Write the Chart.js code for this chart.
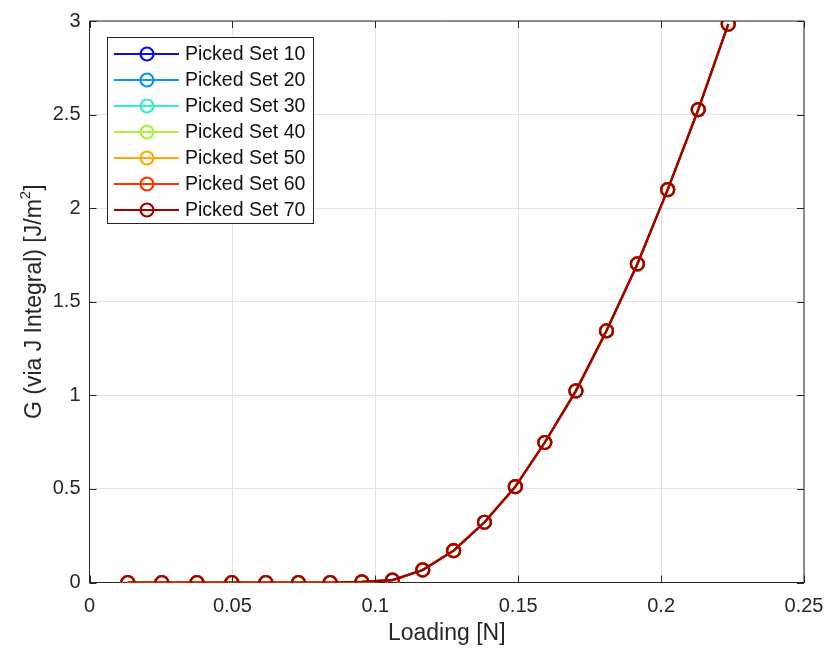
<!DOCTYPE html>
<html>
<head>
  <title>G vs Loading</title>
  <script src="https://cdn.jsdelivr.net/npm/chart.js"></script>
  <style>
    body { margin: 0; background: #fff; }
  </style>
</head>
<body>
<canvas id="gChart" width="826" height="652"></canvas>

<script>
  // loading values [N] and J-integral energy release rate [J/m^2]
  const loading = [0.0134, 0.0253, 0.0376, 0.0498, 0.0617, 0.0731, 0.0842, 0.0953, 0.1060, 0.1166,
                   0.1274, 0.1382, 0.1490, 0.1593, 0.1702, 0.1809, 0.1917, 0.2023, 0.2130, 0.2235];
  const gValues = [0, 0, 0, 0, 0, 0, 0, 0.003, 0.013, 0.067,
                   0.170, 0.322, 0.512, 0.748, 1.024, 1.345, 1.702, 2.099, 2.527, 2.983];

  const setNames = ['Picked Set 10', 'Picked Set 20', 'Picked Set 30', 'Picked Set 40',
                    'Picked Set 50', 'Picked Set 60', 'Picked Set 70'];
  const setColors = ['#0a0af5', '#0a96f5', '#33f0cc', '#aaf03c', '#ffaa00', '#ff3300', '#a00000'];

  const xTickLabels = ['0', '0.05', '0.1', '0.15', '0.2', '0.25'];
  const yTickLabels = ['0', '0.5', '1', '1.5', '2', '2.5', '3'];

  const axisColor = '#262626';
  const fontFamily = '"Liberation Sans", Arial, Helvetica, sans-serif';

  const datasets = setNames.map((name, i) => ({
    label: name,
    data: loading.map((x, k) => ({ x: x, y: gValues[k] })),
    borderColor: setColors[i],
    pointBorderColor: setColors[i],
    pointBackgroundColor: 'rgba(0,0,0,0)',
    pointRadius: 6.5,
    pointBorderWidth: 2.2,
    borderWidth: 2.2,
    tension: 0,
    order: setNames.length - 1 - i   // last set drawn on top
  }));

  // no extra room for overflowing tick labels; chart area is fixed by layout padding
  const noPad = s => { s.paddingLeft = 0; s.paddingRight = 0; s.paddingTop = 0; s.paddingBottom = 0; };

  // box, inward ticks, axis titles and legend drawn in MATLAB style
  const frame = {
    id: 'frame',
    afterDraw(chart) {
      const ctx = chart.ctx;
      const a = chart.chartArea;
      const xs = chart.scales.x, ys = chart.scales.y;
      const tl = 7;
      ctx.save();
      ctx.strokeStyle = axisColor;
      ctx.lineWidth = 1;
      ctx.beginPath();
      ctx.moveTo(a.left, a.top); ctx.lineTo(a.right, a.top);
      ctx.moveTo(a.right, a.top); ctx.lineTo(a.right, a.bottom);
      xs.ticks.forEach(t => {
        const p = Math.round(xs.getPixelForValue(t.value)) + 0.5;
        ctx.moveTo(p, a.bottom); ctx.lineTo(p, a.bottom - tl);
        ctx.moveTo(p, a.top); ctx.lineTo(p, a.top + tl);
      });
      ys.ticks.forEach(t => {
        const p = Math.round(ys.getPixelForValue(t.value)) + 0.5;
        ctx.moveTo(a.left, p); ctx.lineTo(a.left + tl, p);
        ctx.moveTo(a.right, p); ctx.lineTo(a.right - tl, p);
      });
      ctx.stroke();

      // x title
      ctx.fillStyle = axisColor;
      ctx.font = '23px ' + fontFamily;
      ctx.textAlign = 'center';
      ctx.textBaseline = 'middle';
      ctx.fillText('Loading [N]', (a.left + a.right) / 2, 634);

      // y title with superscript
      ctx.translate(35, (a.top + a.bottom) / 2);
      ctx.rotate(-Math.PI / 2);
      const main = 'G (via J Integral) [J/m';
      const sup = '2';
      const tail = ']';
      ctx.font = '23px ' + fontFamily;
      const wMain = ctx.measureText(main).width;
      const wTail = ctx.measureText(tail).width;
      ctx.font = '15px ' + fontFamily;
      const wSup = ctx.measureText(sup).width;
      const x0 = -(wMain + wSup + wTail) / 2;
      ctx.textAlign = 'left';
      ctx.font = '23px ' + fontFamily;
      ctx.fillText(main, x0, 0);
      ctx.font = '15px ' + fontFamily;
      ctx.fillText(sup, x0 + wMain, -9);
      ctx.font = '23px ' + fontFamily;
      ctx.fillText(tail, x0 + wMain + wSup, 0);
      ctx.restore();

      // legend
      ctx.save();
      const lx = 107, ly = 37, lw = 206, lh = 186;
      ctx.fillStyle = '#fff';
      ctx.fillRect(lx, ly, lw, lh);
      ctx.strokeStyle = axisColor;
      ctx.lineWidth = 1;
      ctx.strokeRect(lx + 0.5, ly + 0.5, lw, lh);
      ctx.font = '19.5px ' + fontFamily;
      ctx.textBaseline = 'middle';
      ctx.textAlign = 'left';
      chart.data.datasets.forEach((ds, i) => {
        const y = 54 + 26 * i;
        ctx.strokeStyle = ds.borderColor;
        ctx.lineWidth = 2.2;
        ctx.beginPath();
        ctx.moveTo(114, y); ctx.lineTo(179, y);
        ctx.stroke();
        ctx.beginPath();
        ctx.arc(147, y, 6.5, 0, Math.PI * 2);
        ctx.stroke();
        ctx.fillStyle = '#111';
        ctx.fillText(ds.label, 185, y + 1);
      });
      ctx.restore();
    }
  };

  new Chart(document.getElementById('gChart'), {
    type: 'line',
    data: { datasets: datasets },
    plugins: [frame],
    options: {
      responsive: false,
      animation: false,
      layout: { padding: { left: 0, right: 22, top: 21, bottom: 0 } },
      plugins: { legend: { display: false }, tooltip: { enabled: false } },
      scales: {
        x: {
          type: 'linear',
          min: 0,
          max: 0.25,
          afterFit: s => { s.height = 69.5; noPad(s); },
          ticks: {
            stepSize: 0.05,
            maxRotation: 0,
            autoSkip: false,
            padding: 12,
            color: axisColor,
            font: { size: 20, family: fontFamily },
            callback: (v, i) => xTickLabels[i]
          },
          grid: { color: '#e2e2e2', drawTicks: false },
          border: { color: axisColor, width: 1 }
        },
        y: {
          min: 0,
          max: 3,
          afterFit: s => { s.width = 89.5; noPad(s); },
          ticks: {
            stepSize: 0.5,
            padding: 9,
            color: axisColor,
            font: { size: 20, family: fontFamily },
            callback: (v, i) => yTickLabels[i]
          },
          grid: { color: '#e2e2e2', drawTicks: false },
          border: { color: axisColor, width: 1 }
        }
      }
    }
  });
</script>
</body>
</html>
